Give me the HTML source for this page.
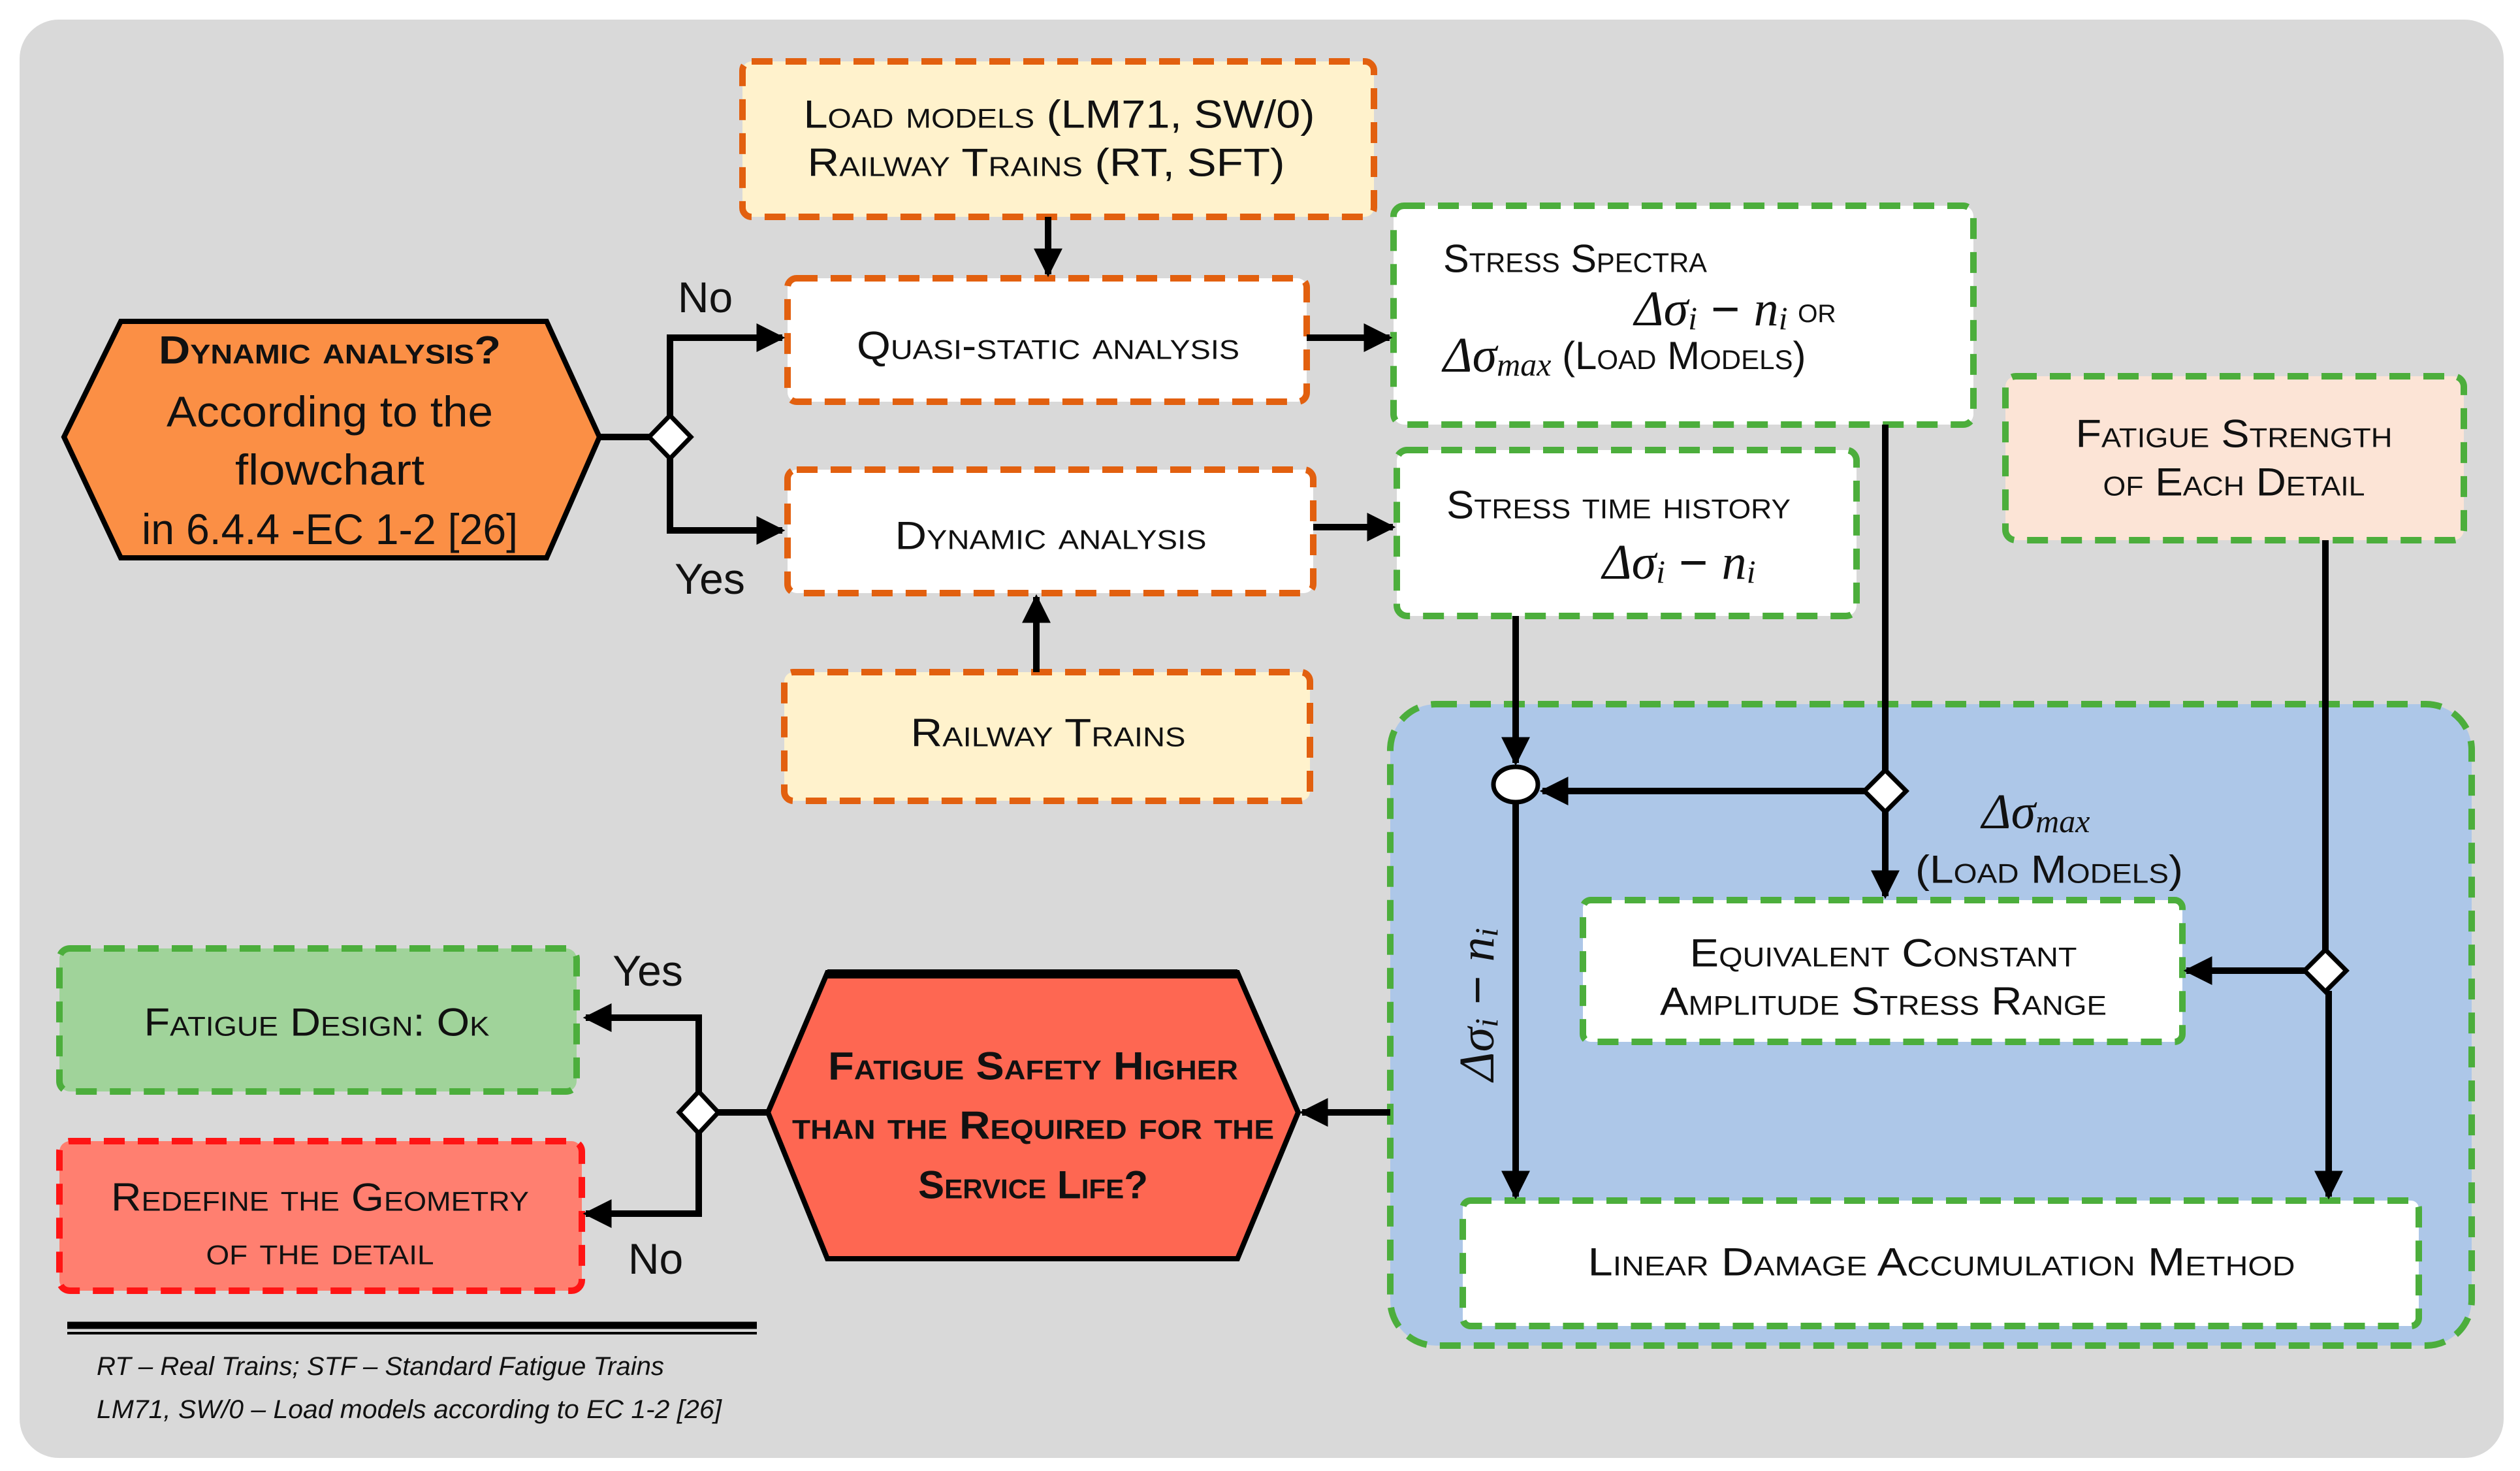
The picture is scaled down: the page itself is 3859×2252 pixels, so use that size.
<!DOCTYPE html>
<html><head><meta charset="utf-8"><style>
html,body{margin:0;padding:0;background:#fff}
svg{display:block}
text{font-family:"Liberation Sans",sans-serif;fill:#111}
.sc{font-variant:small-caps}
.m{font-family:"Liberation Serif",serif;font-style:italic}
</style></head><body>
<svg width="3859" height="2252" viewBox="0 0 3859 2252" xmlns="http://www.w3.org/2000/svg">
<defs>
<marker id="a" viewBox="0 0 10 10" refX="9" refY="5" markerWidth="4.4" markerHeight="4.4" markerUnits="strokeWidth" orient="auto"><path d="M0,0 L10,5 L0,10 z" fill="#000"/></marker>
</defs>
<rect x="30" y="30" width="3804" height="2202" rx="60" fill="#d9d9d9"/>

<rect x="2129" y="1078" width="1656" height="982" rx="70" fill="#adc7e8" stroke="#4cae3c" stroke-width="10" stroke-dasharray="32 20"/>

<g stroke="#e2600f" stroke-width="10" stroke-dasharray="32 20">
<rect x="1137" y="94" width="967" height="238" rx="14" fill="#fff2cc"/>
<rect x="1206" y="426" width="795" height="189" rx="14" fill="#fff"/>
<rect x="1206" y="719" width="805" height="189" rx="14" fill="#fff"/>
<rect x="1201" y="1029" width="805" height="197" rx="14" fill="#fff2cc"/>
</g>
<g stroke="#4cae3c" stroke-width="10" stroke-dasharray="32 20">
<rect x="2134" y="315" width="888" height="335" rx="16" fill="#fff"/>
<rect x="2139" y="689" width="704" height="254" rx="16" fill="#fff"/>
<rect x="3071" y="576" width="702" height="251" rx="16" fill="#fce4d6"/>
<rect x="2424" y="1378" width="918" height="217" rx="12" fill="#fff"/>
<rect x="2240" y="1838" width="1464" height="192" rx="12" fill="#fff"/>
<rect x="91" y="1452" width="792" height="219" rx="16" fill="#a0d39a"/>
</g>
<rect x="91" y="1747" width="800" height="229" rx="16" fill="#ff7f70" stroke="#ff1414" stroke-width="10" stroke-dasharray="32 20"/>

<polygon points="98,669 185,492 837,492 918,669 837,854 185,854" fill="#fb8f45" stroke="#000" stroke-width="8"/>
<polygon points="1176,1703 1267,1489 1895,1489 1988,1703 1895,1927 1267,1927" fill="#fe6752" stroke="#000" stroke-width="8"/>
<line x1="1267" y1="1491" x2="1895" y2="1491" stroke="#000" stroke-width="14"/>

<g stroke="#000" stroke-width="10" fill="none">
<line x1="918" y1="669" x2="1000" y2="669"/>
<polyline points="1026,640 1026,517 1198,517" marker-end="url(#a)"/>
<polyline points="1026,698 1026,812 1198,812" marker-end="url(#a)"/>
<line x1="1605" y1="332" x2="1605" y2="420" marker-end="url(#a)"/>
<line x1="1587" y1="1029" x2="1587" y2="914" marker-end="url(#a)"/>
<line x1="2001" y1="517" x2="2128" y2="517" marker-end="url(#a)"/>
<line x1="2011" y1="807" x2="2133" y2="807" marker-end="url(#a)"/>
<line x1="2321" y1="943" x2="2321" y2="1168" marker-end="url(#a)"/>
<line x1="2887" y1="650" x2="2887" y2="1180"/>
<line x1="2855" y1="1211" x2="2362" y2="1211" marker-end="url(#a)"/>
<line x1="2887" y1="1242" x2="2887" y2="1372" marker-end="url(#a)"/>
<line x1="2321" y1="1228" x2="2321" y2="1832" marker-end="url(#a)"/>
<line x1="3561" y1="827" x2="3561" y2="1455"/>
<line x1="3530" y1="1486" x2="3348" y2="1486" marker-end="url(#a)"/>
<line x1="3566" y1="1517" x2="3566" y2="1832" marker-end="url(#a)"/>
<line x1="2129" y1="1703" x2="1994" y2="1703" marker-end="url(#a)"/>
<line x1="1176" y1="1703" x2="1100" y2="1703"/>
<polyline points="1070,1672 1070,1558 897,1558" marker-end="url(#a)"/>
<polyline points="1070,1734 1070,1858 897,1858" marker-end="url(#a)"/>
</g>
<g fill="#fff" stroke="#000" stroke-width="7">
<polygon points="1026,636 1058,669 1026,702 994,669"/>
<polygon points="2887,1179 2919,1211 2887,1243 2855,1211"/>
<polygon points="3561,1454 3593,1486 3561,1518 3529,1486"/>
<polygon points="1070,1671 1100,1703 1070,1735 1040,1703"/>
<ellipse cx="2321" cy="1201" rx="34" ry="27"/>
</g>

<line x1="103" y1="2029" x2="1159" y2="2029" stroke="#000" stroke-width="11"/>
<line x1="103" y1="2041" x2="1159" y2="2041" stroke="#000" stroke-width="4"/>

<g font-size="60" text-anchor="middle" dominant-baseline="central">
<text class="sc" x="1622" y="175" textLength="783" lengthAdjust="spacingAndGlyphs">Load models (LM71, SW/0)</text>
<text class="sc" x="1602" y="249" textLength="731" lengthAdjust="spacingAndGlyphs">Railway Trains (RT, SFT)</text>
<text class="sc" x="1605" y="529" textLength="586" lengthAdjust="spacingAndGlyphs">Quasi-static analysis</text>
<text class="sc" x="1609" y="820" textLength="477" lengthAdjust="spacingAndGlyphs">Dynamic analysis</text>
<text class="sc" x="1605" y="1122" textLength="421" lengthAdjust="spacingAndGlyphs">Railway Trains</text>
<text class="sc" x="505" y="536" font-weight="bold" textLength="524" lengthAdjust="spacingAndGlyphs">Dynamic analysis?</text>
<text x="505" y="630" font-size="66" textLength="500" lengthAdjust="spacingAndGlyphs">According to the</text>
<text x="505" y="719" font-size="66" textLength="290" lengthAdjust="spacingAndGlyphs">flowchart</text>
<text x="505" y="810" font-size="66" textLength="576" lengthAdjust="spacingAndGlyphs">in 6.4.4 -EC 1-2 [26]</text>
<text x="1080" y="455" font-size="66">No</text>
<text x="1087" y="886" font-size="66">Yes</text>
<text class="sc" x="3421" y="664" textLength="485" lengthAdjust="spacingAndGlyphs">Fatigue Strength</text>
<text class="sc" x="3421" y="738" textLength="401" lengthAdjust="spacingAndGlyphs">of Each Detail</text>
<text class="sc" x="2884" y="1459" textLength="593" lengthAdjust="spacingAndGlyphs">Equivalent Constant</text>
<text class="sc" x="2884" y="1533" textLength="684" lengthAdjust="spacingAndGlyphs">Amplitude  Stress Range</text>
<text class="sc" x="2973" y="1932" textLength="1083" lengthAdjust="spacingAndGlyphs">Linear Damage Accumulation Method</text>
<text class="sc" x="485" y="1565" textLength="529" lengthAdjust="spacingAndGlyphs">Fatigue Design: Ok</text>
<text class="sc" x="490" y="1833" textLength="640" lengthAdjust="spacingAndGlyphs">Redefine the Geometry</text>
<text class="sc" x="490" y="1915" textLength="349" lengthAdjust="spacingAndGlyphs">of the detail</text>
<text class="sc" x="1582" y="1632" font-weight="bold" textLength="628" lengthAdjust="spacingAndGlyphs">Fatigue Safety Higher</text>
<text class="sc" x="1582" y="1723" font-weight="bold" textLength="738" lengthAdjust="spacingAndGlyphs">than the Required for the</text>
<text class="sc" x="1582" y="1814" font-weight="bold" textLength="352" lengthAdjust="spacingAndGlyphs">Service Life?</text>
<text x="992" y="1486" font-size="66">Yes</text>
<text x="1004" y="1927" font-size="66">No</text>
<text class="sc" x="3138" y="1331" textLength="410" lengthAdjust="spacingAndGlyphs">(Load Models)</text>
</g>
<g font-size="60" dominant-baseline="central">
<text class="sc" x="2210" y="396" textLength="404" lengthAdjust="spacingAndGlyphs">Stress Spectra</text>
<text x="2503" y="473" font-size="76"><tspan class="m">Δσ</tspan><tspan class="m" font-size="50" dy="14">i</tspan><tspan dy="-14"> − </tspan><tspan class="m">n</tspan><tspan class="m" font-size="50" dy="14">i</tspan><tspan dy="-14" font-size="56" class="sc">   or</tspan></text>
<text x="2210" y="544" font-size="76"><tspan class="m">Δσ</tspan><tspan class="m" font-size="50" dy="14">max</tspan><tspan dy="-14" class="sc" font-size="60"> (Load Models)</tspan></text>
<text class="sc" x="2215" y="773" textLength="527" lengthAdjust="spacingAndGlyphs">Stress time history</text>
<text x="2454" y="861" font-size="76"><tspan class="m">Δσ</tspan><tspan class="m" font-size="50" dy="14">i</tspan><tspan dy="-14"> − </tspan><tspan class="m">n</tspan><tspan class="m" font-size="50" dy="14">i</tspan></text>
<text x="3035" y="1243" font-size="76"><tspan class="m">Δσ</tspan><tspan class="m" font-size="50" dy="14">max</tspan></text>
<text x="0" y="0" font-size="76" transform="translate(2262,1655) rotate(-90)"><tspan class="m">Δσ</tspan><tspan class="m" font-size="50" dy="14">i</tspan><tspan dy="-14"> − </tspan><tspan class="m">n</tspan><tspan class="m" font-size="50" dy="14">i</tspan></text>
<text x="148" y="2092" font-size="40" font-style="italic" textLength="869" lengthAdjust="spacingAndGlyphs">RT – Real Trains; STF – Standard Fatigue Trains</text>
<text x="148" y="2158" font-size="40" font-style="italic" textLength="957" lengthAdjust="spacingAndGlyphs">LM71, SW/0 – Load models according to EC 1-2 [26]</text>
</g>
</svg>
</body></html>
